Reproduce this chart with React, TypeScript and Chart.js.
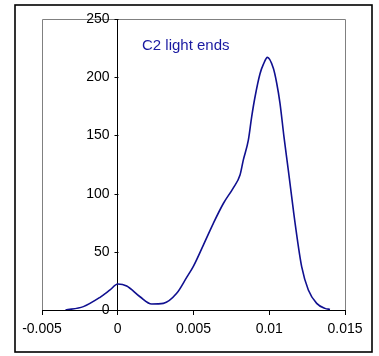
import React, { useEffect, useRef } from "react";
import { Chart, registerables } from "chart.js";

Chart.register(...registerables);

const xValues = [
  -0.00345, -0.00227, -0.00117, -0.00051, 0, 0.00059, 0.00147, 0.00224, 0.00301, 0.00389,
  0.00455, 0.00499, 0.00565, 0.00631, 0.00697, 0.00763, 0.00807, 0.00829, 0.00862, 0.00884,
  0.00906, 0.00939, 0.00961, 0.00988, 0.01027, 0.01049, 0.01071, 0.01097, 0.01126, 0.01159,
  0.0117, 0.01214, 0.01258, 0.01313, 0.01368, 0.01401,
];
const yValues = [
  0, 2.9, 10.9, 17.2, 22.3, 20.6, 11.4, 5.2, 5.7, 14.3,
  28, 37.5, 55.8, 74.5, 91.5, 105, 116, 129, 146, 166,
  183, 203, 211, 217, 207.6, 195, 177.6, 149, 120, 86,
  75, 37.2, 17.2, 5.7, 1.4, 0.5,
];
const xTicks = [-0.005, 0, 0.005, 0.01, 0.015];
const yTicks = [0, 50, 100, 150, 200, 250];
const seriesLabel = "C2 light ends";
const labelAt = { x: 0.0016, y: 227 };

const FONT = "'Liberation Sans', Arial, sans-serif";

export default function App() {
  const ref = useRef<HTMLCanvasElement | null>(null);

  useEffect(() => {
    if (!ref.current) return;
    const framePlugin = {
      id: "frame",
      beforeDraw(chart: any) {
        const ctx = chart.ctx;
        const a = chart.chartArea;
        ctx.save();
        ctx.fillStyle = "#fff";
        ctx.fillRect(0, 0, chart.width, chart.height);
        ctx.strokeStyle = "#000";
        ctx.lineWidth = 1.6;
        ctx.strokeRect(15, 5, 357, 347);
        ctx.strokeStyle = "#808080";
        ctx.lineWidth = 1;
        ctx.beginPath();
        ctx.moveTo(Math.round(a.left) + 0.5, a.bottom);
        ctx.lineTo(Math.round(a.left) + 0.5, Math.round(a.top) + 0.5);
        ctx.lineTo(Math.round(a.right) + 0.5, Math.round(a.top) + 0.5);
        ctx.lineTo(Math.round(a.right) + 0.5, a.bottom);
        ctx.stroke();
        ctx.restore();
      },
      afterDraw(chart: any) {
        const ctx = chart.ctx;
        const xs = chart.scales.x;
        const ys = chart.scales.y;
        const axisX = Math.round(xs.getPixelForValue(0)) + 0.5;
        ctx.save();
        ctx.strokeStyle = "#000";
        ctx.lineWidth = 1;
        ctx.fillStyle = "#000";
        ctx.font = `14px ${FONT}`;
        ctx.textAlign = "right";
        ctx.textBaseline = "middle";
        yTicks.forEach((v) => {
          const py = Math.round(ys.getPixelForValue(v)) + 0.5;
          ctx.beginPath();
          ctx.moveTo(axisX - 4, py);
          ctx.lineTo(axisX, py);
          ctx.stroke();
          ctx.fillText(String(v), axisX - 9, py);
        });
        ctx.fillStyle = "#1a1aa0";
        ctx.font = `15px ${FONT}`;
        ctx.textAlign = "left";
        ctx.fillText(seriesLabel, xs.getPixelForValue(labelAt.x), ys.getPixelForValue(labelAt.y));
        ctx.restore();
      },
    };

    const chart = new Chart(ref.current, {
      type: "line",
      data: {
        datasets: [
          {
            label: seriesLabel,
            data: xValues.map((x, i) => ({ x, y: yValues[i] })),
            borderColor: "#101090",
            borderWidth: 1.6,
            pointRadius: 0,
            tension: 0.4,
            cubicInterpolationMode: "monotone",
            fill: false,
          },
        ],
      },
      options: {
        animation: false,
        responsive: false,
        maintainAspectRatio: false,
        layout: { padding: { left: 42, right: 34, top: 19, bottom: 0 } },
        plugins: { legend: { display: false }, tooltip: { enabled: false } },
        scales: {
          x: {
            type: "linear",
            position: "bottom",
            min: -0.005,
            max: 0.015,
            afterBuildTicks(scale: any) {
              scale.ticks = xTicks.map((v) => ({ value: v }));
            },
            afterFit(scale: any) {
              scale.height = 46;
            },
            grid: { drawOnChartArea: false, tickLength: 5, color: "#000" },
            border: { color: "#000", width: 1 },
            ticks: {
              color: "#000",
              font: { family: FONT, size: 14 },
              padding: 6,
              maxRotation: 0,
              autoSkip: false,
              callback: (v: any) => String(Number(Number(v).toFixed(4))),
            },
          },
          y: {
            type: "linear",
            position: { x: 0 } as any,
            min: 0,
            max: 250,
            afterBuildTicks(scale: any) {
              scale.ticks = yTicks.map((v) => ({ value: v }));
            },
            grid: { display: false },
            border: { display: true, color: "#000", width: 1 },
            ticks: { display: false },
          },
        },
      },
      plugins: [framePlugin],
    });
    return () => chart.destroy();
  }, []);

  return (
    <div style={{ position: "absolute", left: 0, top: 0, width: 379, height: 356 }}>
      <canvas ref={ref} width={379} height={356} style={{ width: 379, height: 356 }} />
    </div>
  );
}
